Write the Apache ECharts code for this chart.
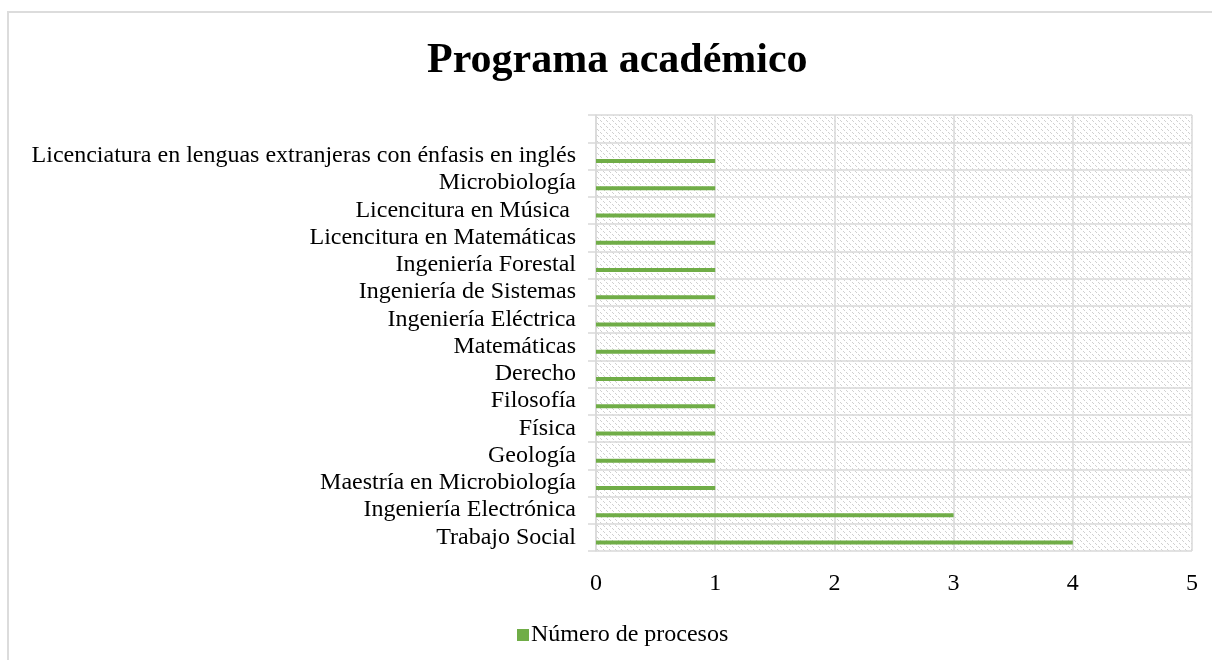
<!DOCTYPE html>
<html>
<head>
<meta charset="utf-8">
<script src="https://cdn.jsdelivr.net/npm/echarts@6/dist/echarts.min.js"></script>
<style>
  html, body { margin: 0; padding: 0; background: #fff; }
  #chart { width: 1212px; height: 660px; }
</style>
</head>
<body>
<div id="chart"></div>
<script>
// categories bottom -> top (top row is an empty category in the source sheet)
const programas = [
  'Trabajo Social',
  'Ingeniería Electrónica',
  'Maestría en Microbiología',
  'Geología',
  'Física',
  'Filosofía',
  'Derecho',
  'Matemáticas',
  'Ingeniería Eléctrica',
  'Ingeniería de Sistemas',
  'Ingeniería Forestal',
  'Licencitura en Matemáticas',
  'Licencitura en Música ',
  'Microbiología',
  'Licenciatura en lenguas extranjeras con énfasis en inglés',
  ''
];
const numeroProcesos = [4, 3, 1, 1, 1, 1, 1, 1, 1, 1, 1, 1, 1, 1, 1, null];
const xTicks = [0, 1, 2, 3, 4, 5];

const serif = '"Liberation Serif", "Times New Roman", serif';
const gridGray = '#d9d9d9';

// hatched fill like the Excel plot area
function makeHatch() {
  const c = document.createElement('canvas');
  c.width = 6; c.height = 6;
  const ctx = c.getContext('2d');
  ctx.fillStyle = '#ffffff';
  ctx.fillRect(0, 0, 6, 6);
  ctx.fillStyle = '#d0d0d0';
  for (let i = 0; i < 6; i++) {
    if (i % 3 === 2) continue;
    ctx.fillRect(i, i, 1, 1);
  }
  return c;
}

const chart = echarts.init(document.getElementById('chart'));
chart.setOption({
  animation: false,
  title: {
    text: 'Programa académico',
    left: 422,
    top: 35,
    textStyle: { fontFamily: serif, fontSize: 42, fontWeight: 'bold', color: '#000' }
  },
  legend: {
    data: ['Número de procesos'],
    left: 512,
    top: 618,
    icon: 'rect',
    itemWidth: 12,
    itemHeight: 12,
    itemGap: 6,
    itemStyle: { borderWidth: 0 },
    textStyle: { fontFamily: serif, fontSize: 24, color: '#000', padding: [0, 0, 0, -3] }
  },
  graphic: [{
    type: 'rect',
    shape: { x: 8, y: 12, width: 1230, height: 700 },
    style: { fill: null, stroke: '#dcdcdc', lineWidth: 2 },
    silent: true,
    z: -10
  }],
  grid: {
    left: 596,
    right: 20,
    top: 115,
    bottom: 109,
    show: true,
    borderWidth: 0,
    backgroundColor: { image: makeHatch(), repeat: 'repeat' }
  },
  xAxis: {
    type: 'value',
    min: xTicks[0],
    max: xTicks[xTicks.length - 1],
    interval: 1,
    axisLine: { show: false },
    axisTick: { show: false },
    axisLabel: { fontFamily: serif, fontSize: 24, color: '#000', margin: 21 },
    splitLine: { show: true, lineStyle: { color: gridGray, width: 1.5 } }
  },
  yAxis: {
    type: 'category',
    data: programas,
    axisLine: { show: true, lineStyle: { color: gridGray, width: 1.5 } },
    axisTick: { show: true, length: 8, interval: 0, lineStyle: { color: gridGray, width: 1.5 } },
    axisLabel: { fontFamily: serif, fontSize: 24, color: '#000', margin: 20, interval: 0 },
    splitLine: { show: true, interval: 0, lineStyle: { color: gridGray, width: 1.5 } }
  },
  series: [{
    name: 'vacía',
    type: 'bar',
    data: numeroProcesos.map(() => null),
    barWidth: 4,
    barGap: '150%',
    itemStyle: { color: 'transparent' }
  }, {
    name: 'Número de procesos',
    type: 'bar',
    data: numeroProcesos,
    barWidth: 4,
    barGap: '150%',
    itemStyle: { color: '#70ad47' }
  }]
});
</script>
</body>
</html>
